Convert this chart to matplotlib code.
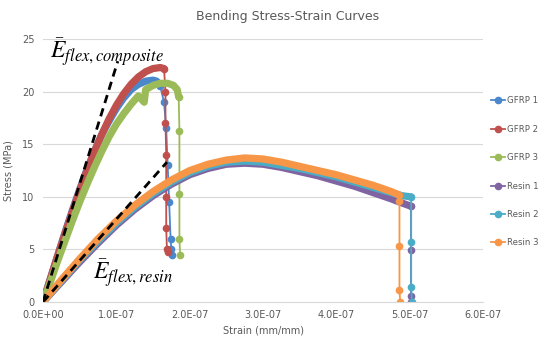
import matplotlib
matplotlib.use('Agg')
import matplotlib.pyplot as plt
from matplotlib.lines import Line2D
from matplotlib.ticker import FuncFormatter
import numpy as np

plt.rcParams['mathtext.fontset'] = 'stix'

# strain values in units of 1e-7 mm/mm, stress in MPa
gfrp1_strain = [0, 0.1, 0.2, 0.3, 0.4, 0.5, 0.6, 0.7, 0.8, 0.9, 1.0, 1.1, 1.2, 1.3, 1.4, 1.5, 1.55,
                1.6, 1.65, 1.68, 1.7, 1.72, 1.74, 1.75, 1.76]
gfrp1_stress = [0, 2.2, 4.4, 6.6, 8.7, 10.7, 12.6, 14.3, 15.9, 17.2, 18.4, 19.4, 20.2, 20.7, 21.0, 21.1, 21.0,
                20.5, 19.0, 16.5, 13.0, 9.5, 6.0, 5.0, 4.5]

gfrp2_strain = [0, 0.1, 0.2, 0.3, 0.4, 0.5, 0.6, 0.7, 0.8, 0.9, 1.0, 1.1, 1.2, 1.3, 1.4, 1.5, 1.6,
                1.65, 1.67, 1.67, 1.68, 1.68, 1.68, 1.69, 1.7]
gfrp2_stress = [0, 2.2, 4.4, 6.5, 8.6, 10.6, 12.5, 14.3, 15.9, 17.4, 18.7, 19.8, 20.7, 21.4, 21.9, 22.2, 22.3,
                22.2, 20.0, 17.0, 14.0, 10.0, 7.0, 5.0, 4.8]

gfrp3_strain = [0, 0.1, 0.2, 0.3, 0.4, 0.5, 0.6, 0.7, 0.8, 0.9, 1.0, 1.1, 1.2, 1.3, 1.38, 1.4, 1.5,
                1.6, 1.7, 1.78, 1.83, 1.85, 1.86, 1.86, 1.86, 1.87]
gfrp3_stress = [0, 1.9, 3.9, 5.8, 7.7, 9.5, 11.2, 12.8, 14.3, 15.7, 16.9, 17.9, 18.8, 19.6, 19.0, 20.2, 20.6,
                20.8, 20.8, 20.6, 20.2, 19.5, 16.3, 10.3, 6.0, 4.5]

resin_strain = [0, 0.25, 0.5, 0.75, 1.0, 1.25, 1.5, 1.75, 2.0, 2.25, 2.5, 2.75, 3.0, 3.25, 3.5, 3.75,
                4.0, 4.25, 4.5, 4.75]
resin1_strain = resin_strain + [4.9, 5.02, 5.02, 5.02, 5.02]
resin1_stress = [0, 1.9, 3.8, 5.6, 7.3, 8.8, 10.1, 11.2, 12.1, 12.7, 13.1, 13.2, 13.1, 12.8, 12.4, 12.0,
                 11.5, 11.0, 10.4, 9.8, 9.4, 9.1, 4.9, 0.6, 0]
resin2_strain = resin_strain + [4.9, 5.02, 5.02, 5.02, 5.03]
resin2_stress = [0, 2.0, 4.0, 5.8, 7.5, 9.0, 10.3, 11.4, 12.3, 12.9, 13.3, 13.4, 13.3, 13.0, 12.7, 12.3,
                 11.9, 11.4, 10.9, 10.4, 10.1, 10.0, 5.7, 1.4, 0]
resin3_strain = resin_strain + [4.85, 4.86, 4.86, 4.86, 4.87]
resin3_stress = [0, 2.1, 4.1, 6.0, 7.7, 9.2, 10.5, 11.6, 12.5, 13.1, 13.5, 13.7, 13.6, 13.3, 12.9, 12.5,
                 12.1, 11.6, 11.1, 10.5, 10.2, 9.6, 5.3, 1.1, 0]

# moduli fit lines
comp_fit_strain = [0, 1.02]
comp_fit_stress = [0, 22.9]
resin_fit_strain = [0, 1.69]
resin_fit_stress = [0, 13.3]

names = ['GFRP 1', 'GFRP 2', 'GFRP 3', 'Resin 1', 'Resin 2', 'Resin 3']
colors = ['#4A87CB', '#C0504D', '#9BBB59', '#8064A2', '#4BACC6', '#F79646']
# last index of the smooth (pre-failure) part of each curve
series = [(gfrp1_strain, gfrp1_stress, 17), (gfrp2_strain, gfrp2_stress, 17),
          (gfrp3_strain, gfrp3_stress, 21), (resin1_strain, resin1_stress, 21),
          (resin2_strain, resin2_stress, 21), (resin3_strain, resin3_stress, 20)]

fig = plt.figure(figsize=(5.42, 3.37), dpi=100)
ax = fig.add_axes([0.0793, 0.1039, 0.812, 0.78])

for (x, y, n), c in zip(series, colors):
    x = np.array(x) * 1e-7
    y = np.array(y)
    ax.plot(x[:n + 1], y[:n + 1], color=c, lw=5.2, solid_capstyle='round', solid_joinstyle='round')
    ax.plot(x[n:], y[n:], color=c, lw=1.3, marker='o', ms=4.5, mec=c, mfc=c)

ax.plot(np.array(comp_fit_strain) * 1e-7, comp_fit_stress, color='black', ls='--', lw=2, dashes=(3, 2))
ax.plot(np.array(resin_fit_strain) * 1e-7, resin_fit_stress, color='black', ls='--', lw=2, dashes=(3, 2))

ax.text(0.1e-7, 23.1, r'$\bar{E}_{flex,composite}$', fontsize=17, color='black')
ax.text(0.68e-7, 2.1, r'$\bar{E}_{flex,resin}$', fontsize=17, color='black')

ax.set_xlim(0, 6e-7)
ax.set_ylim(0, 25)
ax.set_xticks(np.arange(0, 7) * 1e-7)
ax.set_yticks([0, 5, 10, 15, 20, 25])
ax.xaxis.set_major_formatter(FuncFormatter(lambda v, p: '%.1E' % v))
ax.grid(axis='y', color='#D9D9D9', lw=0.8)
ax.set_axisbelow(True)
for s in ['top', 'right', 'left']:
    ax.spines[s].set_visible(False)
ax.spines['bottom'].set_color('#D9D9D9')
ax.tick_params(length=0, labelsize=7, colors='#595959', pad=6)
ax.set_xlabel('Strain (mm/mm)', fontsize=7, color='#595959', labelpad=4)
ax.set_ylabel('Stress (MPa)', fontsize=7, color='#595959', labelpad=6)
fig.suptitle('Bending Stress-Strain Curves', x=0.53, y=0.97, fontsize=9, color='#595959')

handles = [Line2D([], [], color=c, lw=1.3, marker='o', ms=4.5) for c in colors]
fig.legend(handles, names, loc='center left', bbox_to_anchor=(0.9, 0.49), frameon=False,
           fontsize=6.2, labelcolor='#595959', labelspacing=2.25, handlelength=1.6,
           handletextpad=0.25, borderaxespad=0)

fig.savefig('out.png', dpi=100)
